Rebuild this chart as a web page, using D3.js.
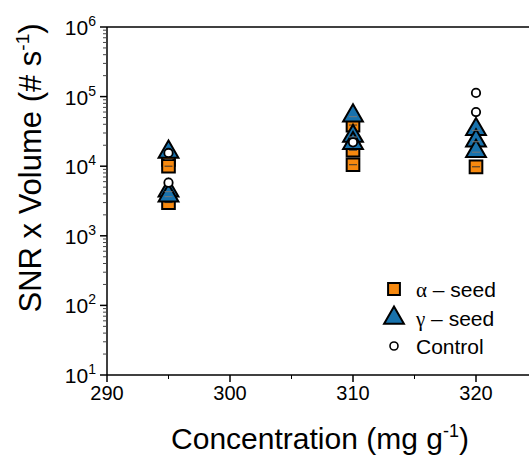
<!DOCTYPE html>
<html><head><meta charset="utf-8">
<script src="https://cdn.jsdelivr.net/npm/d3@7"></script>
<style>body{margin:0;background:#fff}svg{display:block}</style>
</head><body>
<script>
const alphaX = [295, 295, 295, 310, 310, 310, 320];
const alphaY = [12500, 10000, 3000, 39000, 17000, 10500, 9800];
const gammaX = [295, 295, 295, 310, 310, 310, 320, 320, 320];
const gammaY = [16500, 4600, 3900, 55000, 28000, 22000, 35000, 24000, 17000];
const ctrlX = [295, 295, 310, 320, 320];
const ctrlY = [15500, 5800, 22000, 113000, 60000];
const xTicks = [290, 300, 310, 320];
const yTicks = [10, 100, 1000, 10000, 100000, 1000000];
const legendLabels = ["α", "γ", "Control"];

const W = 529, H = 455;
const svg = d3.select("body").append("svg").attr("width", W).attr("height", H);
const L = 107, R = 529, T = 27, B = 375;
const x = d3.scaleLinear().domain([290, 290 + (R - L) / 12.3]).range([L, R]);
const y = d3.scaleLog().domain([10, 1e6]).range([B, T]);
const font = "'Liberation Sans', Arial, sans-serif";

svg.append("line").attr("x1", L).attr("x2", R).attr("y1", T).attr("y2", T).attr("stroke", "#000").attr("stroke-width", 1.5);
svg.append("line").attr("x1", L).attr("x2", R).attr("y1", B).attr("y2", B).attr("stroke", "#000").attr("stroke-width", 1.5);
svg.append("line").attr("x1", L).attr("x2", L).attr("y1", T).attr("y2", B).attr("stroke", "#000").attr("stroke-width", 1.5);

const g = svg.append("g");
yTicks.forEach(v => {
  g.append("line").attr("x1", L - 7).attr("x2", L).attr("y1", y(v)).attr("y2", y(v)).attr("stroke", "#000").attr("stroke-width", 1.5);
  const t = g.append("text").attr("x", 96).attr("y", y(v) + 8).attr("text-anchor", "end")
    .attr("font-family", font).attr("font-size", 21);
  t.append("tspan").text("10");
  t.append("tspan").attr("dy", -9).attr("font-size", 14).text(Math.round(Math.log10(v)));
});
for (let d = 1; d < 6; d++) {
  for (let m = 2; m <= 9; m++) {
    const v = m * Math.pow(10, d);
    g.append("line").attr("x1", L - 4).attr("x2", L).attr("y1", y(v)).attr("y2", y(v)).attr("stroke", "#444").attr("stroke-width", 1);
  }
}
xTicks.forEach(v => {
  g.append("line").attr("x1", x(v)).attr("x2", x(v)).attr("y1", B).attr("y2", B + 7).attr("stroke", "#000").attr("stroke-width", 1.5);
  g.append("text").attr("x", x(v)).attr("y", B + 25).attr("text-anchor", "middle")
    .attr("font-family", font).attr("font-size", 20).text(v);
});
[295, 305, 315].forEach(v => {
  g.append("line").attr("x1", x(v)).attr("x2", x(v)).attr("y1", B).attr("y2", B + 4).attr("stroke", "#000").attr("stroke-width", 1);
});

const xt = svg.append("text").attr("x", 320).attr("y", 449).attr("text-anchor", "middle")
  .attr("font-family", font).attr("font-size", 30);
xt.append("tspan").text("Concentration (mg g");
xt.append("tspan").attr("dy", -12).attr("font-size", 18).text("-1");
xt.append("tspan").attr("dy", 12).text(")");
const yt = svg.append("text").attr("transform", "translate(41,168) rotate(-90)").attr("text-anchor", "middle")
  .attr("font-family", font).attr("font-size", 31);
yt.append("tspan").text("SNR x Volume (# s");
yt.append("tspan").attr("dy", -12).attr("font-size", 19).text("-1");
yt.append("tspan").attr("dy", 12).text(")");

const orange = "#f7890f", blue = "#1872ad";
const sq = d3.symbol().type(d3.symbolSquare).size(160);
const tri = d3.symbol().type(d3.symbolTriangle).size(170);

const data = (xs, ys) => xs.map((v, i) => ({x: v, y: ys[i]}));
const pts = svg.append("g");
pts.selectAll(".sq").data(data(alphaX, alphaY)).join("path").attr("class", "sq")
  .attr("d", sq).attr("transform", d => `translate(${x(d.x)},${y(d.y)})`)
  .attr("fill", orange).attr("stroke", "#000").attr("stroke-width", 2);
pts.selectAll(".sqe").data(data(alphaX, alphaY)).join("line").attr("class", "sqe")
  .attr("x1", d => x(d.x) - 4).attr("x2", d => x(d.x) + 4).attr("y1", d => y(d.y)).attr("y2", d => y(d.y))
  .attr("stroke", "#333").attr("stroke-width", 1);
pts.selectAll(".tr").data(data(gammaX, gammaY)).join("path").attr("class", "tr")
  .attr("d", tri).attr("transform", d => `translate(${x(d.x)},${y(d.y) + 1})`)
  .attr("fill", blue).attr("stroke", "#000").attr("stroke-width", 2);
pts.selectAll(".tre").data(data(gammaX, gammaY)).join("line").attr("class", "tre")
  .attr("x1", d => x(d.x) - 4).attr("x2", d => x(d.x) + 4).attr("y1", d => y(d.y) + 2).attr("y2", d => y(d.y) + 2)
  .attr("stroke", "#777").attr("stroke-width", 1);
pts.selectAll(".ci").data(data(ctrlX, ctrlY)).join("circle").attr("class", "ci")
  .attr("cx", d => x(d.x)).attr("cy", d => y(d.y)).attr("r", 4.2)
  .attr("fill", "#fff").attr("stroke", "#000").attr("stroke-width", 1.8);

const lg = svg.append("g");
lg.append("path").attr("d", d3.symbol().type(d3.symbolSquare).size(140)).attr("transform", "translate(394,289)")
  .attr("fill", orange).attr("stroke", "#000").attr("stroke-width", 2);
lg.append("path").attr("d", d3.symbol().type(d3.symbolTriangle).size(170)).attr("transform", "translate(394,318)")
  .attr("fill", blue).attr("stroke", "#000").attr("stroke-width", 2);
lg.append("circle").attr("cx", 394).attr("cy", 346).attr("r", 4).attr("fill", "#fff").attr("stroke", "#000").attr("stroke-width", 1.6);
[[legendLabels[0], 297], [legendLabels[1], 326]].forEach(([s, yy]) => {
  const t = lg.append("text").attr("x", 416).attr("y", yy).attr("font-family", font).attr("font-size", 21);
  t.append("tspan").attr("font-family", "'Liberation Serif', serif").text(s);
  t.append("tspan").text(" – seed");
});
lg.append("text").attr("x", 416).attr("y", 354).attr("font-family", font).attr("font-size", 21).text(legendLabels[2]);
</script>
</body></html>
